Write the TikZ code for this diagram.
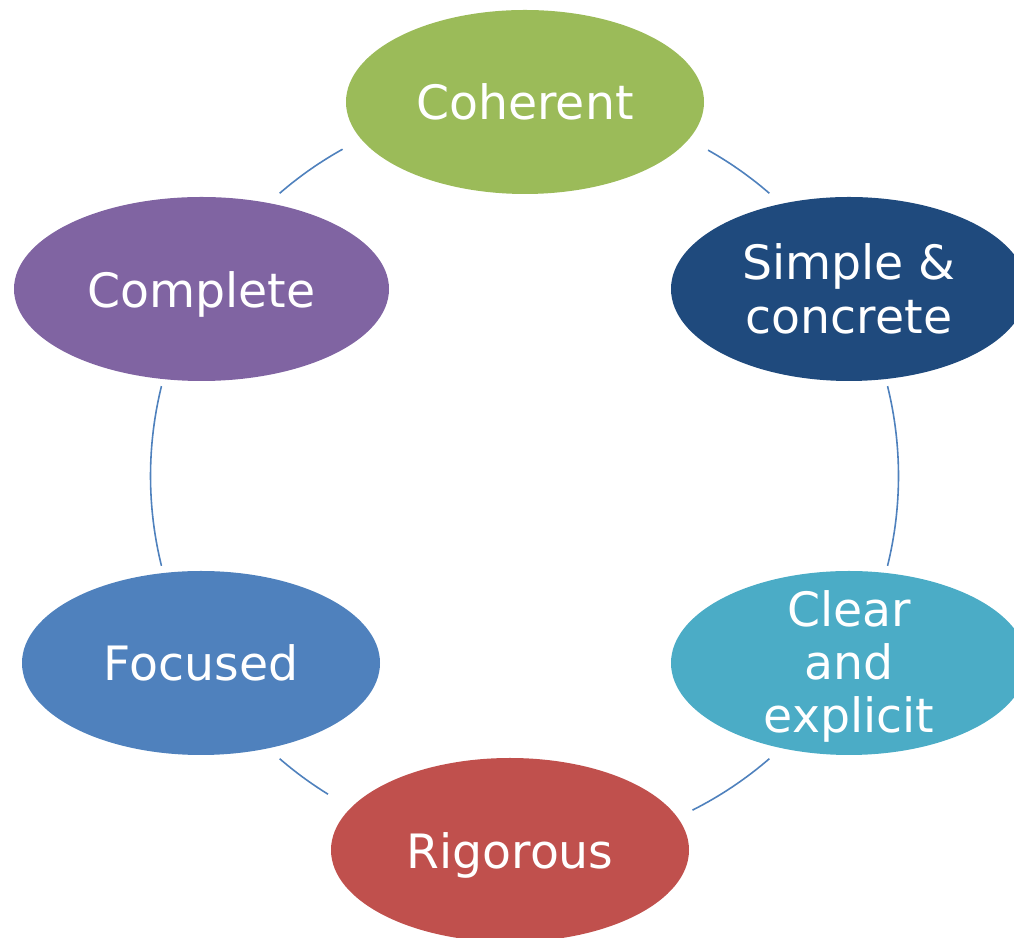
\documentclass[tikz,border=0pt]{standalone}
\usepackage{fontspec}
\setmainfont{DejaVu Sans}
\usetikzlibrary{shapes.geometric,calc}
\definecolor{cgreen}{HTML}{9BBB59}
\definecolor{cdark}{HTML}{1F4A7D}
\definecolor{ccyan}{HTML}{4BACC6}
\definecolor{cred}{HTML}{C0504D}
\definecolor{cblue}{HTML}{4F81BD}
\definecolor{cpurple}{HTML}{8064A2}
\definecolor{cline}{HTML}{4F81BD}
\tikzset{
  bub/.style={ellipse, draw=none, inner sep=0pt, minimum width=358*0.75pt, minimum height=184*0.75pt},
  lab/.style={text=white, font=\fontsize{35.5}{40}\selectfont, align=center, inner sep=0pt},
  conn/.style={draw=cline, line width=1.2pt}
}
\begin{document}
\begin{tikzpicture}[x=0.75pt,y=0.75pt]
\useasboundingbox (0,0) rectangle (1014,938);
\clip (0,0) rectangle (1014,938);
\coordinate (c) at (524.5,462);
\node[bub, fill=cgreen, label={[lab]center:Coherent}] (coh) at (525,836) {};
\node[bub, fill=cdark, minimum width=356*0.75pt, label={[lab]center:Simple \&\\concrete}] (sim) at (849,649) {};
\node[bub, fill=ccyan, minimum width=356*0.75pt, label={[lab,yshift=-2.5pt]center:Clear\\and\\explicit}] (cle) at (849,275) {};
\node[bub, fill=cred, label={[lab,yshift=-3.75pt]center:Rigorous}] (rig) at (510,88) {};
\node[bub, fill=cblue, label={[lab]center:Focused}] (foc) at (201,275) {};
\node[bub, fill=cpurple, minimum width=375*0.75pt, label={[lab,yshift=-3.75pt]center:Complete}] (com) at (201.5,649) {};
% connectors (arcs of the ring between neighbouring nodes)
\draw[conn] ($(c)+(60.6:374)$) arc[start angle=60.6, end angle=49.1, radius=374];
\draw[conn] ($(c)+(13.9:374)$) arc[start angle=13.9, end angle=-13.9, radius=374];
\draw[conn] ($(c)+(-49.1:374)$) arc[start angle=-49.1, end angle=-63.3, radius=374];
\draw[conn] ($(c)+(-121.7:374)$) arc[start angle=-121.7, end angle=-130.9, radius=374];
\draw[conn] ($(c)+(-166.1:374)$) arc[start angle=-166.1, end angle=-193.9, radius=374];
\draw[conn] ($(c)+(130.9:374)$) arc[start angle=130.9, end angle=119.1, radius=374];
\end{tikzpicture}
\end{document}
